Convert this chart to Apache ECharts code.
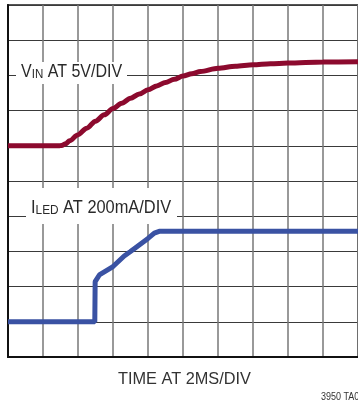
<!DOCTYPE html>
<html><head><meta charset="utf-8">
<script src="https://cdn.jsdelivr.net/npm/echarts@6/dist/echarts.min.js"></script>
<style>html,body{margin:0;padding:0;background:#fff;overflow:hidden}#c{width:358px;height:406px}</style>
</head><body><div id="c"></div>
<script>
// time in divisions (2 ms/div), amplitude in divisions
const vinTime = [0, 1.0, 1.45, 1.53, 1.65, 1.76, 1.99, 2.25, 2.5, 2.75, 3.0, 3.25, 3.5, 3.75, 4.0, 4.25, 4.5, 4.75, 5.0, 5.25, 5.5, 6.0, 6.5, 7.0, 7.5, 8.0, 9.0, 10.0];
const vinDiv  = [6.0, 6.0, 6.0, 6.01, 6.06, 6.14, 6.31, 6.50, 6.70, 6.88, 7.06, 7.21, 7.35, 7.47, 7.59, 7.70, 7.80, 7.89, 7.98, 8.05, 8.11, 8.20, 8.26, 8.30, 8.33, 8.35, 8.38, 8.39];
const ledTime = [0, 1.0, 2.0, 2.48, 2.49, 2.61, 3.0, 3.32, 3.49, 4.0, 4.18, 4.32, 5.0, 6.0, 7.0, 8.0, 9.0, 10.0];
const ledDiv  = [1.0, 1.0, 1.0, 1.0, 2.14, 2.33, 2.57, 2.87, 2.99, 3.37, 3.52, 3.57, 3.57, 3.57, 3.57, 3.57, 3.57, 3.57];
const xTitle = 'TIME AT 2MS/DIV';
const figId = '3950 TA01';

const FONT = '"Liberation Sans",Arial,sans-serif';
const chart = echarts.init(document.getElementById('c'), null, {renderer:'canvas'});
const pts = (xs, ys) => xs.map((x, i) => [x, ys[i]]);
const richLabel = {
  m: {fontFamily: FONT, fontSize: 18, lineHeight: 18, fill: '#2a2a2a'},
  s: {fontFamily: FONT, fontSize: 13, lineHeight: 8, verticalAlign: 'bottom', fill: '#2a2a2a'}
};

chart.setOption({
  animation: false,
  grid: {left: 8, top: 5, width: 352, height: 352, show: true, borderColor: '#555', borderWidth: 2, backgroundColor: '#fff'},
  xAxis: {type: 'value', min: 0, max: 10, interval: 1,
    axisLine: {show: true, onZero: false, lineStyle: {color: '#111', width: 2}},
    axisTick: {show: false}, axisLabel: {show: false},
    splitLine: {show: true, lineStyle: {color: '#777', width: 1.5}}
  },
  yAxis: {type: 'value', min: 0, max: 10, interval: 1,
    axisLine: {show: true, onZero: false, lineStyle: {color: '#111', width: 2}},
    axisTick: {show: false}, axisLabel: {show: false},
    splitLine: {show: true, lineStyle: {color: '#3a3a3a', width: 1.2}}
  },
  series: [
    {type: 'line', data: pts(vinTime, vinDiv), smooth: 0.3, smoothMonotone: 'x', showSymbol: false,
      lineStyle: {color: '#8c0a2e', width: 5}, z: 3},
    {type: 'line', data: pts(ledTime, ledDiv), smooth: false, showSymbol: false,
      lineStyle: {color: '#3a52a3', width: 5}, z: 3}
  ],
  graphic: [
    {type: 'rect', z: 100, shape: {x: 16, y: 62, width: 111, height: 22}, style: {fill: '#fff'}},
    {type: 'text', z: 101, x: 21, y: 63, scaleX: 0.89, style: {text: '{m|V}{s|IN}{m| AT 5V/DIV}', rich: richLabel}},
    {type: 'rect', z: 100, shape: {x: 26, y: 188, width: 151, height: 36}, style: {fill: '#fff'}},
    {type: 'text', z: 101, x: 31, y: 199, scaleX: 0.91, style: {text: '{m|I}{s|LED}{m| AT 200mA/DIV}', rich: richLabel}},
    {type: 'text', z: 101, x: 118, y: 371, scaleX: 0.96, style: {text: xTitle, fontFamily: FONT, fontSize: 17, fill: '#333'}},
    {type: 'text', z: 101, x: 321, y: 392, scaleX: 0.9, style: {text: figId, fontFamily: FONT, fontSize: 10, fill: '#333'}}
  ]
});
</script></body></html>
